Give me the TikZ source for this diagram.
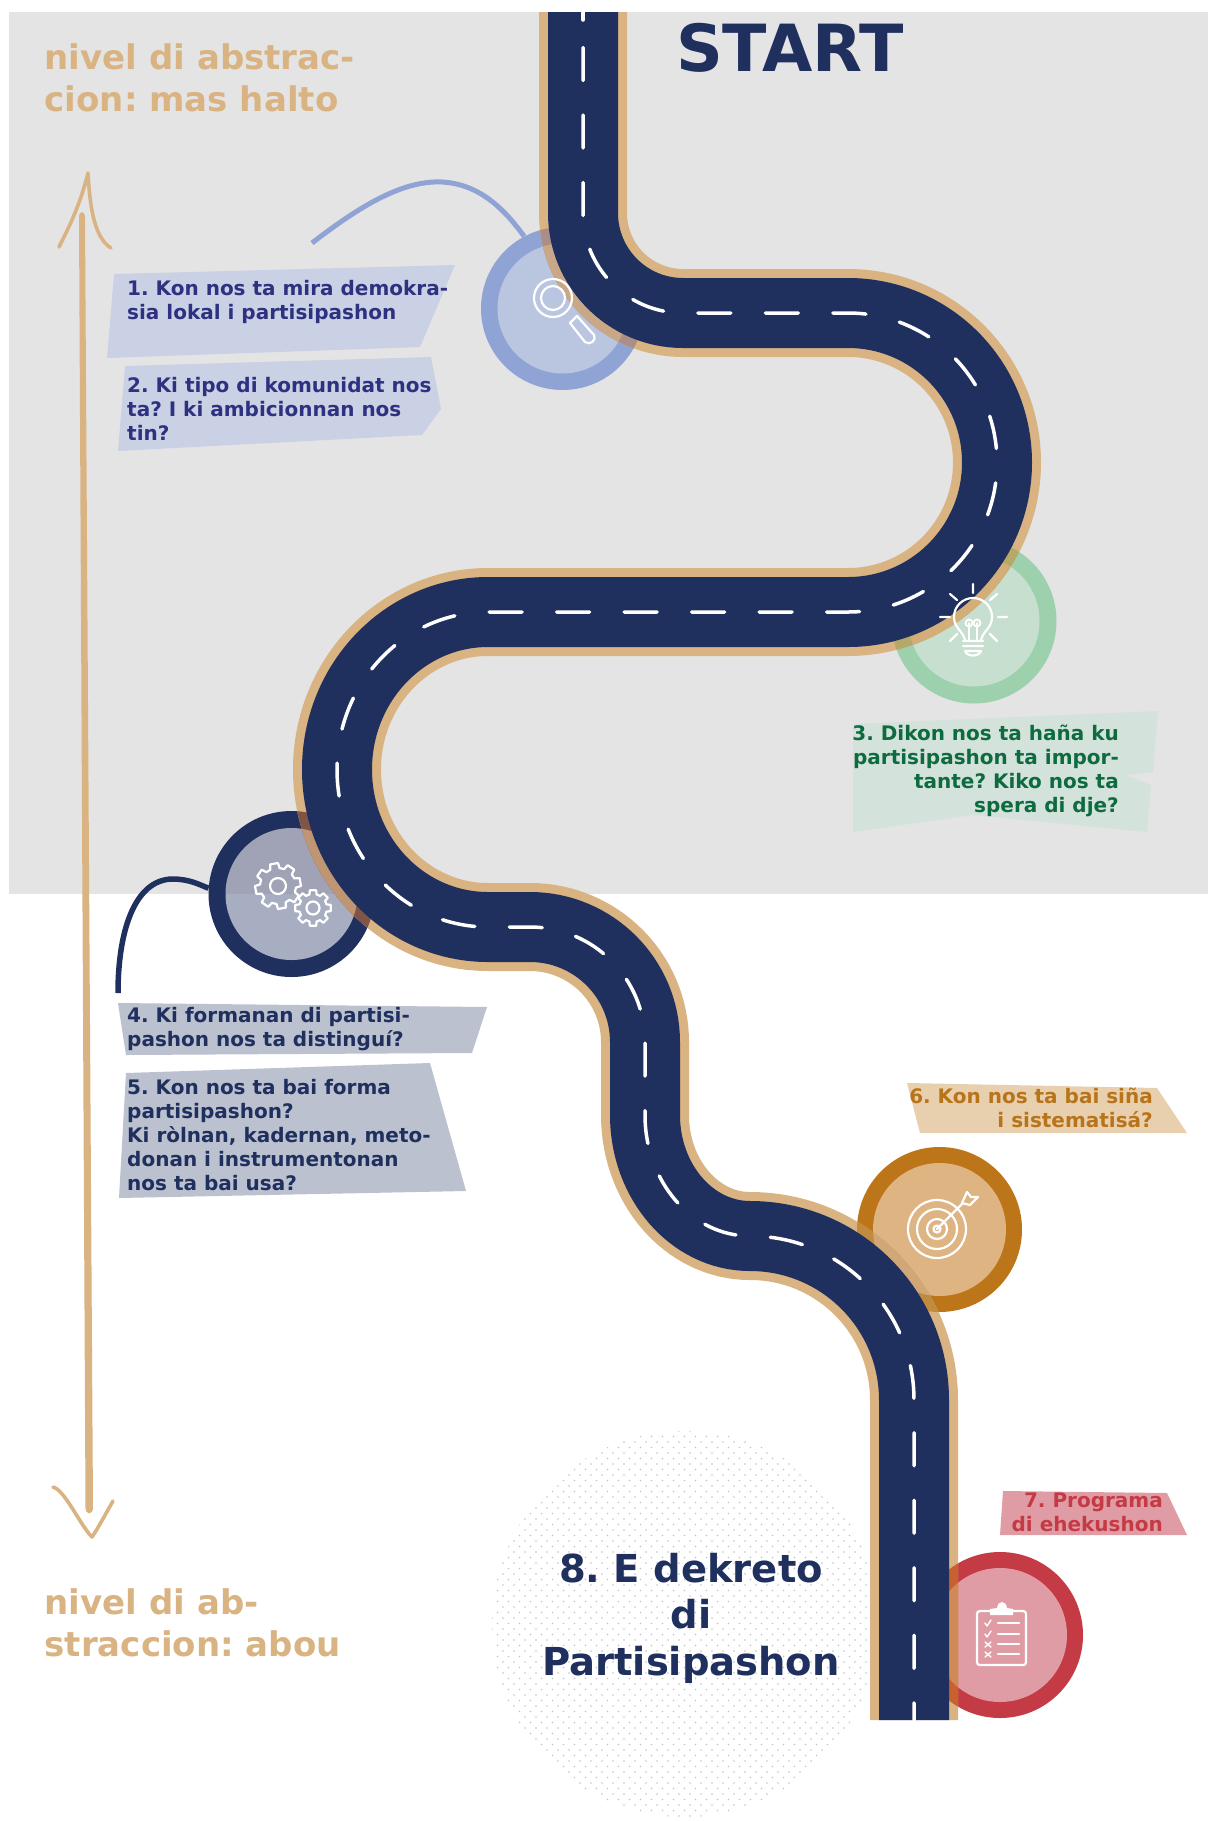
\documentclass[tikz,border=0pt]{standalone}
\usepackage{fontspec}
\setmainfont{DejaVu Sans}
\frenchspacing
\definecolor{navy}{HTML}{1F2F5E}
\definecolor{roadtan}{HTML}{D9B382}
\definecolor{bggrey}{HTML}{E4E4E4}
\definecolor{txtblue}{HTML}{2E3180}
\definecolor{txtgreen}{HTML}{0E6B3F}
\definecolor{txtorange}{HTML}{B8741A}
\definecolor{txtred}{HTML}{C43A45}
\definecolor{ringblue}{HTML}{8FA3D4}
\definecolor{inblue}{HTML}{BAC5E0}
\definecolor{ringgreen}{HTML}{9DD0AD}
\definecolor{ingreen}{HTML}{C7DFCF}
\definecolor{ringorange}{HTML}{BC7518}
\definecolor{inorange}{HTML}{DDB482}
\definecolor{ringred}{HTML}{C43A45}
\definecolor{inred}{HTML}{E09CA4}
\definecolor{boxblue}{HTML}{CAD1E4}
\definecolor{boxgreen}{HTML}{D3E3DC}
\definecolor{boxnavy}{HTML}{BCC1D0}
\definecolor{boxorange}{HTML}{E8CFAE}
\definecolor{boxred}{HTML}{E09CA4}
\definecolor{tanAr}{HTML}{AB8F86}
\definecolor{tanAi}{HTML}{C9A888}
\definecolor{tanBr}{HTML}{B6A868}
\definecolor{tanBi}{HTML}{D3AE78}
\definecolor{tanCr}{HTML}{7E5547}
\definecolor{tanCi}{HTML}{BE9673}
\definecolor{tanDr}{HTML}{C08A3F}
\definecolor{tanDi}{HTML}{D0A878}
\definecolor{tanEr}{HTML}{C9602F}
\definecolor{tanEi}{HTML}{D08A58}
\definecolor{nvupper}{HTML}{9FA3B5}
\definecolor{nvlower}{HTML}{A8AEC2}
\definecolor{dotcol}{HTML}{BFC3CC}
\tikzset{
  x=1pt,y=-1pt,
  ask/.style={inner sep=0pt,font=\fontsize{20}{24}\selectfont\bfseries},
  askleft/.style={ask,anchor=north west,align=left},
  askright/.style={ask,anchor=north east,align=right},
  levellabel/.style={inner sep=0pt,anchor=north west,align=left,text=roadtan,font=\fontsize{34}{42}\selectfont\bfseries},
  badge/.style={circle,inner sep=0pt,minimum size=#1},
  icon/.style={draw=white,line width=2.2pt,line cap=round,line join=round},
  handline/.style={draw=roadtan,line width=3.6pt,line cap=round,line join=round},
}
\def\roadpath{(583,12) -- (583,213) .. controls (583,268.2) and (627.8,313) .. (683,313)
 -- (848,313) .. controls (930.3,313) and (997,379.9) .. (997,462.5)
 .. controls (997,545.1) and (930.3,612) .. (848,612)
 -- (488,612) .. controls (404.6,612) and (337,682.5) .. (337,769.5)
 .. controls (337,856.5) and (404.6,927) .. (488,927)
 -- (530,927) .. controls (593.5,927) and (645,978.5) .. (645,1042)
 -- (645,1115) .. controls (645,1181.8) and (692,1236) .. (750,1236)
 .. controls (840.6,1236) and (914,1309.4) .. (914,1400)
 -- (914,1720)}
% #1 cx, #2 cy, #3 ring radius, #4 inner radius, #5 tan on ring, #6 tan on inner
\newcommand{\overlaytan}[6]{%
  \begin{scope}
    \clip (#1,#2) circle[radius=#3pt];
    \draw[color=#5,line width=88pt] \roadpath;
  \end{scope}
  \begin{scope}
    \clip (#1,#2) circle[radius=#4pt];
    \draw[color=#6,line width=88pt] \roadpath;
  \end{scope}}
\newcommand{\gearicon}[6]{% cx cy Rout Rin Rhole rot
  \begin{scope}[shift={(#1,#2)},rotate=#6]
    \draw[icon] (-15:#4)
      \foreach \k in {0,...,7} { -- ({\k*45-15}:#4) -- ({\k*45-10}:#3) -- ({\k*45+10}:#3) -- ({\k*45+15}:#4) } -- cycle;
    \draw[icon] (0,0) circle[radius=#5pt];
  \end{scope}}
\begin{document}
\begin{tikzpicture}
\useasboundingbox (0,0) rectangle (1208,1821);
\fill[white] (0,0) rectangle (1208,1821);
\fill[bggrey] (9,12) rectangle (1208,894);

% dotted disc
\begin{scope}
  \clip (685,1624) circle[radius=193pt];
  \fill[dotcol] \foreach \i in {0,...,35} { \foreach \j in {0,...,36} {
     ({492+11*\i},{1431+11*\j}) circle[radius=.9pt]
     ({497.5+11*\i},{1436.5+11*\j}) circle[radius=.9pt] } };
\end{scope}

% badges
\node[badge=163pt,fill=ringblue] (b1) at (562.5,308.5) {};
\node[badge=130pt,fill=inblue] (b1i) at (562.5,308.5) {};
\node[badge=165pt,fill=ringgreen] (b3) at (974,621) {};
\node[badge=131pt,fill=ingreen] (b3i) at (974,621) {};
\node[badge=166pt,fill=navy] (b4) at (291.5,894) {};
\begin{scope}
  \clip (291.5,894) circle[radius=66pt];
  \fill[nvupper] (220,820) rectangle (360,894);
  \fill[nvlower] (220,894) rectangle (360,970);
\end{scope}
\node[badge=165pt,fill=ringorange] (b6) at (939.5,1229.5) {};
\node[badge=133pt,fill=inorange] (b6i) at (939.5,1229.5) {};
\node[badge=166pt,fill=ringred] (b7) at (1000,1635) {};
\node[badge=134pt,fill=inred] (b7i) at (1000,1635) {};

% callout lines
\coordinate (l1) at (312,243);
\coordinate (l4) at (118,993);
\draw[ringblue,line width=5pt] (l1) .. controls (355,210) and (400,180) .. (442,182) .. controls (480,184) and (505,210) .. (b1.118);
\draw[navy,line width=5.5pt] (l4) .. controls (118,930) and (135,880) .. (172,879) .. controls (190,879) and (200,885) .. (b4.176);

% road
\draw[roadtan,line width=88pt] \roadpath;
\overlaytan{562.5}{308.5}{81.5}{65}{tanAr}{tanAi}
\overlaytan{974}{621}{82.5}{65.5}{tanBr}{tanBi}
\overlaytan{291.5}{894}{83}{66}{tanCr}{tanCi}
\overlaytan{939.5}{1229.5}{82.5}{66.5}{tanDr}{tanDi}
\overlaytan{1000}{1635}{83}{67}{tanEr}{tanEi}
\draw[navy,line width=70pt] \roadpath;
\draw[white,line width=3.5pt,line cap=round,dash pattern=on 33pt off 34.5pt,dash phase=32pt] \roadpath;
\draw[white,line width=3.5pt,line cap=round] (583,13) -- (583,20);

% hand-drawn level arrow
\fill[roadtan] (79,218) .. controls (79,210) and (85,210) .. (85,218) -- (93,1508) .. controls (93,1515) and (85.5,1515) .. (85.5,1508) -- cycle;
\draw[handline] (59,247) .. controls (70,225) and (80,205) .. (88,173) .. controls (90,210) and (95,238) .. (111,248);
\draw[handline] (53,1487) .. controls (65,1490) and (80,1525) .. (92,1537) .. controls (97,1530) and (105,1515) .. (113,1501);

% question boxes
\fill[boxblue] (114,274) -- (455,265) -- (420,347) -- (107,358) -- cycle;
\fill[boxblue] (125,366) -- (431,357) -- (441,409) -- (422,435) -- (118,451) -- cycle;
\fill[boxgreen] (853,724) -- (1158,711) -- (1153,772) -- (1125,775) -- (1151,785) -- (1147,832) -- (973,815) -- (853,832) -- cycle;
\fill[boxnavy] (118,1003) -- (487,1007) -- (472,1053) -- (126,1055) -- cycle;
\fill[boxnavy] (126,1073) -- (430,1063) -- (466,1191) -- (119,1198) -- cycle;
\fill[boxorange] (907,1083) -- (1157,1088) -- (1187,1133) -- (920,1133) -- cycle;
\fill[boxred] (1003,1491) -- (1167,1493) -- (1187,1535) -- (1000,1535) -- cycle;

% texts
\node[inner sep=0pt,anchor=base,text=navy,font=\fontsize{65}{70}\selectfont\bfseries] (start) at (790,71) {START};
\node[levellabel] (top) at (44.5,39.6) {\strut nivel di abstrac-\\cion: mas halto};
\node[levellabel] (low) at (44.5,1584.6) {\strut nivel di ab-\\straccion: abou};
\node[askleft,text=txtblue] (q1) at (127,278.2) {\strut 1. Kon nos ta mira demokra-\\sia lokal i partisipashon};
\node[askleft,text=txtblue] (q2) at (127,375.2) {\strut 2. Ki tipo di komunidat nos\\ta? I ki ambicionnan nos\\tin?};
\node[askright,text=txtgreen] (q3) at (1119,723.2) {\strut 3. Dikon nos ta haña ku\\partisipashon ta impor-\\tante? Kiko nos ta\\spera di dje?};
\node[askleft,text=navy] (q4) at (127,1005.2) {\strut 4. Ki formanan di partisi-\\pashon nos ta distinguí?};
\node[askleft,text=navy] (q5) at (127,1077.2) {\strut 5. Kon nos ta bai forma\\partisipashon?\\Ki ròlnan, kadernan, meto-\\donan i instrumentonan\\nos ta bai usa?};
\node[askright,text=txtorange] (q6) at (1153,1086.2) {\strut 6. Kon nos ta bai siña\\i sistematisá?};
\node[askright,text=txtred] (q7) at (1163,1490.2) {\strut 7. Programa\\di ehekushon};
\node[inner sep=0pt,anchor=north,align=center,text=navy,font=\fontsize{38.5}{46.5}\selectfont\bfseries] (q8) at (691,1549.5) {\strut 8. E dekreto\\di\\Partisipashon};

% icons: magnifier
\draw[icon] (553,298) circle[radius=19pt];
\draw[icon] (553,298) circle[radius=12pt];
\draw[icon] (570,323) -- (577,316) -- (594,335) .. controls (597,340) and (590,346) .. (585,342) -- cycle;
% bulb
\draw[icon] (965,640) .. controls (963,631) and (954,628) .. (954,617) .. controls (954,606) and (963,598) .. (973,598) .. controls (983,598) and (992,606) .. (992,617) .. controls (992,628) and (983,631) .. (981,640);
\draw[icon] (963,641) -- (983,641) (963,646) -- (983,646) (965,651) .. controls (967,657) and (979,657) .. (981,651) -- (965,651);
\draw[icon,line width=1.8pt] (969,640) -- (969,623) (977,640) -- (977,623) (969,623) circle[radius=3.5pt] (977,623) circle[radius=3.5pt];
\draw[icon] (973,584) -- (973,593) (950,594) -- (957,600) (997,594) -- (990,600) (940,617) -- (950,617) (998,617) -- (1007,617) (950,641) -- (957,634) (997,641) -- (990,634);
% gears
\gearicon{278}{886}{23}{18}{8}{10}
\gearicon{313}{908}{18}{14}{6.5}{0}
% target
\draw[icon] (937,1229) circle[radius=29pt] (937,1229) circle[radius=20pt] (937,1229) circle[radius=10pt] (937,1229) circle[radius=3.5pt];
\draw[icon] (937,1229) -- (962,1204);
\draw[icon] (962,1203) -- (967,1192) -- (971,1197) -- (978,1197) -- (970,1205) -- cycle;
% clipboard
\draw[icon] (980,1611) -- (1023,1611) .. controls (1025,1611) and (1026,1612) .. (1026,1614) -- (1026,1662) .. controls (1026,1664) and (1025,1665) .. (1023,1665) -- (980,1665) .. controls (978,1665) and (977,1664) .. (977,1662) -- (977,1614) .. controls (977,1612) and (978,1611) .. (980,1611) -- cycle;
\fill[white] (990,1615) -- (990,1609) -- (997,1608) .. controls (998,1600) and (1006,1600) .. (1007,1608) -- (1013,1609) -- (1013,1615) -- cycle;
\draw[icon] (998,1623) -- (1019,1623) (998,1634) -- (1019,1634) (998,1644) -- (1019,1644) (998,1654) -- (1019,1654);
\draw[icon,line width=1.4pt] (985,1623) -- (987,1626) -- (991,1620) (985,1634) -- (987,1637) -- (991,1631) (985,1642) -- (991,1647) (991,1642) -- (985,1647) (985,1652) -- (991,1657) (991,1652) -- (985,1657);
\end{tikzpicture}
\end{document}
